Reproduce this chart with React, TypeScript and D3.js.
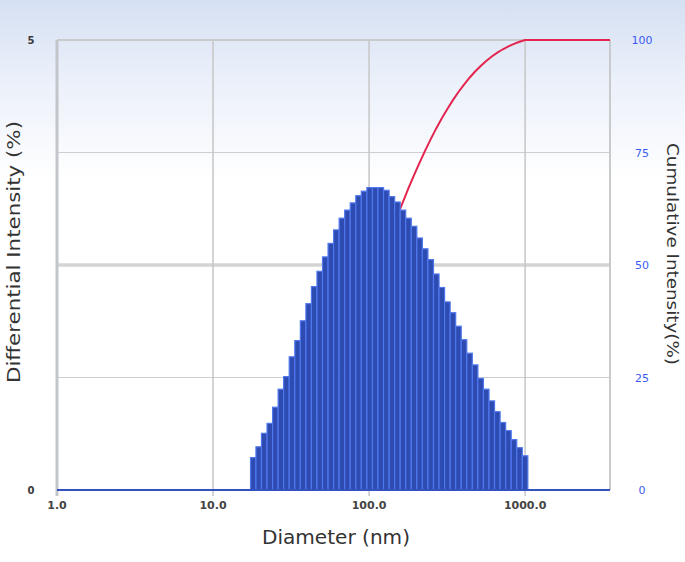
import { useEffect, useRef } from 'react';
import * as d3 from 'd3';

// bin centres (nm) and differential intensity (%)
const diameters = [
  18.1, 19.6, 21.3, 23.1, 25.1, 27.2, 29.5, 32.1, 34.8, 37.8,
  41.0, 44.5, 48.3, 52.4, 56.9, 61.7, 67.0, 72.7, 78.9, 85.6,
  92.9, 100.9, 109.5, 118.8, 129.0, 140.0, 151.9, 164.9, 178.9, 194.2,
  210.8, 228.8, 248.4, 269.5, 292.6, 317.5, 344.6, 374.0, 406.0, 440.6,
  478.2, 519.0, 563.4, 611.5, 663.6, 720.3, 781.8, 848.5, 921.0, 999.5
];
const intensity = [
  0.36, 0.48, 0.63, 0.74, 0.92, 1.12, 1.26, 1.48, 1.66, 1.88,
  2.07, 2.26, 2.43, 2.59, 2.74, 2.89, 3.02, 3.11, 3.19, 3.27,
  3.32, 3.36, 3.36, 3.36, 3.33, 3.26, 3.20, 3.11, 3.02, 2.93,
  2.80, 2.68, 2.56, 2.40, 2.25, 2.09, 1.97, 1.82, 1.67, 1.52,
  1.39, 1.24, 1.12, 0.99, 0.87, 0.75, 0.66, 0.56, 0.47, 0.38
];
const xTicks = [1, 10, 100, 1000];
const xDomain = [1, 3500];
const leftTicks = [0, 5];
const rightTicks = [0, 25, 50, 75, 100];

export default function App() {
  const svgRef = useRef<SVGSVGElement | null>(null);

  useEffect(() => {
    if (!svgRef.current) return;
    const width = 685;
    const height = 562;
    const left = 57, right = 610, top = 40, bottom = 490;

    const svg = d3.select(svgRef.current);
    svg.selectAll('*').remove();
    svg.attr('width', width).attr('height', height);

    const defs = svg.append('defs');
    const bg = defs.append('linearGradient')
      .attr('id', 'bg')
      .attr('x1', 0).attr('y1', 0).attr('x2', 0).attr('y2', 1);
    bg.append('stop').attr('offset', '0%').attr('stop-color', '#d5e0f3');
    bg.append('stop').attr('offset', '12%').attr('stop-color', '#e8eef9');
    bg.append('stop').attr('offset', '32%').attr('stop-color', '#ffffff');
    bg.append('stop').attr('offset', '100%').attr('stop-color', '#ffffff');

    svg.append('rect')
      .attr('width', width).attr('height', height)
      .attr('fill', 'url(#bg)');

    const x = d3.scaleLog().domain(xDomain).range([left, right]);
    const yL = d3.scaleLinear().domain([0, 5]).range([bottom, top]);
    const yR = d3.scaleLinear().domain([0, 100]).range([bottom, top]);

    // horizontal grid
    [25, 50, 75].forEach(v => {
      svg.append('line')
        .attr('x1', left).attr('x2', right)
        .attr('y1', yR(v)).attr('y2', yR(v))
        .attr('stroke', v === 50 ? '#d4d4d4' : '#cfcfcf')
        .attr('stroke-width', v === 50 ? 3.5 : 1.2);
    });

    // vertical grid + ticks below baseline
    xTicks.slice(1).forEach(t => {
      svg.append('line')
        .attr('x1', x(t)).attr('x2', x(t))
        .attr('y1', top).attr('y2', bottom + 6)
        .attr('stroke', '#c6c6c6')
        .attr('stroke-width', 1.5);
    });

    // frame
    svg.append('line')
      .attr('x1', left).attr('x2', right).attr('y1', top).attr('y2', top)
      .attr('stroke', '#c8cacc').attr('stroke-width', 2);
    svg.append('line')
      .attr('x1', right).attr('x2', right).attr('y1', top).attr('y2', bottom)
      .attr('stroke', '#c8cacc').attr('stroke-width', 2);
    svg.append('line')
      .attr('x1', left).attr('x2', left).attr('y1', top).attr('y2', bottom + 6)
      .attr('stroke', '#c2c5c9').attr('stroke-width', 3);

    // bins
    const n = diameters.length;
    const bins = diameters.map((d, i) => {
      const lo = i === 0 ? d * d / Math.sqrt(d * diameters[1]) : Math.sqrt(diameters[i - 1] * d);
      const hi = i === n - 1 ? d * d / Math.sqrt(diameters[n - 2] * d) : Math.sqrt(d * diameters[i + 1]);
      return { d, lo, hi, v: intensity[i] };
    });

    // cumulative curve
    const total = d3.sum(intensity);
    const cum = d3.cumsum(intensity).map(c => (c / total) * 100);
    const pts: [number, number][] = [[xDomain[0], 0], [bins[0].lo, 0]];
    diameters.forEach((d, i) => pts.push([d, cum[i]]));
    pts.push([xDomain[1], 100]);

    const line = d3.line<[number, number]>()
      .x(p => x(p[0]))
      .y(p => yR(p[1]));

    svg.append('path')
      .attr('d', line(pts))
      .attr('fill', 'none')
      .attr('stroke', '#e3254f')
      .attr('stroke-width', 2);

    svg.append('g')
      .selectAll('rect')
      .data(bins)
      .enter()
      .append('rect')
      .attr('x', b => x(b.lo))
      .attr('width', b => x(b.hi) - x(b.lo))
      .attr('y', b => yL(b.v))
      .attr('height', b => yL(0) - yL(b.v))
      .attr('fill', '#2d4bb0')
      .attr('stroke', '#5078ee')
      .attr('stroke-width', 1.2);

    // baseline
    svg.append('line')
      .attr('x1', left).attr('x2', right)
      .attr('y1', bottom).attr('y2', bottom)
      .attr('stroke', '#3352c2').attr('stroke-width', 2);

    const font = '"DejaVu Sans", Verdana, sans-serif';

    // x tick labels
    xTicks.forEach(t => {
      svg.append('text')
        .attr('x', x(t)).attr('y', bottom + 19)
        .attr('text-anchor', 'middle')
        .attr('font-family', font)
        .attr('font-size', '11px')
        .attr('font-weight', 'bold')
        .attr('fill', '#444')
        .text(t.toFixed(1));
    });

    // left tick labels
    leftTicks.forEach(t => {
      svg.append('text')
        .attr('x', 31).attr('y', yL(t) + 4)
        .attr('text-anchor', 'middle')
        .attr('font-family', font)
        .attr('font-size', '10px')
        .attr('font-weight', 'bold')
        .attr('fill', '#3a3a3a')
        .text(t);
    });

    // right tick labels
    rightTicks.forEach(t => {
      svg.append('text')
        .attr('x', 642).attr('y', yR(t) + 4)
        .attr('text-anchor', 'middle')
        .attr('font-family', font)
        .attr('font-size', '11px')
        .attr('fill', '#3b5cf2')
        .text(t);
    });

    // axis titles
    svg.append('text')
      .attr('x', 336).attr('y', 544)
      .attr('text-anchor', 'middle')
      .attr('font-family', font)
      .attr('font-size', '19px')
      .attr('textLength', 148)
      .attr('lengthAdjust', 'spacingAndGlyphs')
      .attr('fill', '#333')
      .text('Diameter (nm)');

    svg.append('text')
      .attr('transform', 'translate(20, 252) rotate(-90)')
      .attr('text-anchor', 'middle')
      .attr('font-family', font)
      .attr('font-size', '17px')
      .attr('textLength', 262)
      .attr('lengthAdjust', 'spacingAndGlyphs')
      .attr('fill', '#333')
      .text('Differential Intensity (%)');

    svg.append('text')
      .attr('transform', 'translate(667, 254) rotate(90)')
      .attr('text-anchor', 'middle')
      .attr('font-family', font)
      .attr('font-size', '16px')
      .attr('textLength', 222)
      .attr('lengthAdjust', 'spacingAndGlyphs')
      .attr('fill', '#333')
      .text('Cumulative Intensity(%)');
  }, []);

  return (
    <div style={{ position: 'absolute', left: 0, top: 0 }}>
      <svg ref={svgRef} style={{ display: 'block' }} />
    </div>
  );
}
